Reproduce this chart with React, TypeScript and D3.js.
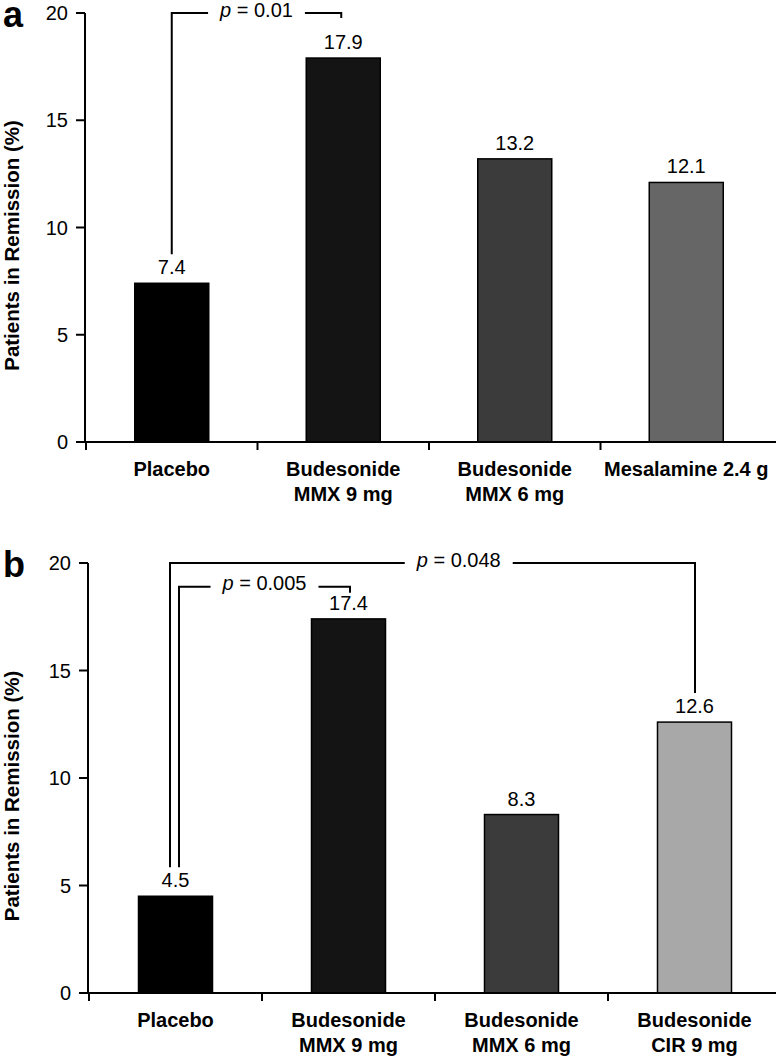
import React, { useEffect, useRef } from "react";
import * as d3 from "d3";

const categoriesA: string[][] = [["Placebo"], ["Budesonide", "MMX 9 mg"], ["Budesonide", "MMX 6 mg"], ["Mesalamine 2.4 g"]];
const valuesA: number[] = [7.4, 17.9, 13.2, 12.1];
const colorsA: string[] = ["#000000", "#141414", "#3b3b3b", "#666666"];

const categoriesB: string[][] = [["Placebo"], ["Budesonide", "MMX 9 mg"], ["Budesonide", "MMX 6 mg"], ["Budesonide", "CIR 9 mg"]];
const valuesB: number[] = [4.5, 17.4, 8.3, 12.6];
const colorsB: string[] = ["#000000", "#141414", "#3b3b3b", "#a8a8a8"];

const yTicks: number[] = [0, 5, 10, 15, 20];
const yTitle = "Patients in Remission (%)";

const FONT = "'Liberation Sans', Arial, Helvetica, sans-serif";

interface Bracket {
  from: number;
  to: number;
  label: string;
  level: number;
  fromDx: number;
  toDx: number;
  textPos: number;
  dropRight: number | null;
}

interface PanelCfg {
  letter: string;
  top: number;
  bottom: number;
  axisX: number;
  xStart: number;
  step: number;
  cats: string[][];
  vals: number[];
  colors: string[];
  brackets: Bracket[];
}

const panels: PanelCfg[] = [
  {
    letter: "a",
    top: 13,
    bottom: 442,
    axisX: 85,
    xStart: 86,
    step: 171.5,
    cats: categoriesA,
    vals: valuesA,
    colors: colorsA,
    brackets: [
      { from: 0, to: 1, label: "0.01", level: 20, fromDx: 0, toDx: -2, textPos: 0.5, dropRight: 5 },
    ],
  },
  {
    letter: "b",
    top: 563,
    bottom: 993,
    axisX: 88,
    xStart: 89,
    step: 173,
    cats: categoriesB,
    vals: valuesB,
    colors: colorsB,
    brackets: [
      { from: 0, to: 3, label: "0.048", level: 20, fromDx: -5.5, toDx: 0.5, textPos: 0.55, dropRight: null },
      { from: 0, to: 1, label: "0.005", level: 18.9, fromDx: 3.5, toDx: 1.5, textPos: 0.5, dropRight: 6 },
    ],
  },
];

export default function App() {
  const ref = useRef<SVGSVGElement | null>(null);

  useEffect(() => {
    const svg = d3.select(ref.current);
    svg.selectAll("*").remove();

    panels.forEach((p) => {
      const g = svg.append("g");
      const y = d3.scaleLinear().domain([0, 20]).range([p.bottom, p.top]);
      const x = d3
        .scaleBand<number>()
        .domain(p.cats.map((_, i) => i))
        .range([p.xStart, p.xStart + p.step * p.cats.length])
        .paddingInner(0)
        .paddingOuter(0);
      const barW = 74;
      const cx = (i: number) => (x(i) as number) + x.bandwidth() / 2;

      g.selectAll("rect.bar")
        .data(p.vals)
        .enter()
        .append("rect")
        .attr("x", (_, i) => cx(i) - barW / 2)
        .attr("y", (d) => y(d))
        .attr("width", barW)
        .attr("height", (d) => p.bottom - y(d))
        .attr("fill", (_, i) => p.colors[i])
        .attr("stroke", "#000")
        .attr("stroke-width", 1.5);

      g.selectAll("text.val")
        .data(p.vals)
        .enter()
        .append("text")
        .attr("x", (_, i) => cx(i))
        .attr("y", (d) => y(d) - 9)
        .attr("text-anchor", "middle")
        .attr("font-family", FONT)
        .attr("font-size", 20)
        .attr("fill", "#000")
        .text((d) => d.toFixed(1));

      g.append("line")
        .attr("x1", p.axisX)
        .attr("x2", p.axisX)
        .attr("y1", y(20))
        .attr("y2", y(0))
        .attr("stroke", "#000")
        .attr("stroke-width", 2);
      yTicks.forEach((t) => {
        g.append("line")
          .attr("x1", p.axisX - 9)
          .attr("x2", p.axisX)
          .attr("y1", y(t))
          .attr("y2", y(t))
          .attr("stroke", "#000")
          .attr("stroke-width", 2);
        g.append("text")
          .attr("x", p.axisX - 17)
          .attr("y", y(t))
          .attr("dy", "0.36em")
          .attr("text-anchor", "end")
          .attr("font-family", FONT)
          .attr("font-size", 20)
          .text(String(t));
      });

      g.append("line")
        .attr("x1", p.axisX - 9)
        .attr("x2", 776)
        .attr("y1", p.bottom)
        .attr("y2", p.bottom)
        .attr("stroke", "#000")
        .attr("stroke-width", 2);
      p.cats.forEach((_, i) => {
        const tx = x(i) as number;
        g.append("line")
          .attr("x1", tx)
          .attr("x2", tx)
          .attr("y1", p.bottom)
          .attr("y2", p.bottom + 8)
          .attr("stroke", "#000")
          .attr("stroke-width", 2);
      });
      p.cats.forEach((lines, i) => {
        const t = g
          .append("text")
          .attr("x", cx(i))
          .attr("y", p.bottom + 34)
          .attr("text-anchor", "middle")
          .attr("font-family", FONT)
          .attr("font-weight", "bold")
          .attr("font-size", 20);
        lines.forEach((ln, k) => {
          t.append("tspan")
            .attr("x", cx(i))
            .attr("dy", k === 0 ? 0 : 25)
            .text(ln);
        });
      });

      g.append("text")
        .attr("transform", `translate(19,${(p.top + p.bottom) / 2 + 18}) rotate(-90)`)
        .attr("text-anchor", "middle")
        .attr("font-family", FONT)
        .attr("font-weight", "bold")
        .attr("font-size", 20.5)
        .text(yTitle);

      g.append("text")
        .attr("x", 3)
        .attr("y", p.top + 14)
        .attr("font-family", FONT)
        .attr("font-weight", "bold")
        .attr("font-size", 36)
        .text(p.letter);

      p.brackets.forEach((b) => {
        const x1 = cx(b.from) + b.fromDx;
        const x2 = cx(b.to) + b.toDx;
        const ly = y(b.level);
        const leftBottom = y(p.vals[b.from]) - 29;
        const rightBottom = b.dropRight === null ? y(p.vals[b.to]) - 29 : ly + b.dropRight;
        const tc = x1 + (x2 - x1) * b.textPos;
        const txt = g
          .append("text")
          .attr("x", tc)
          .attr("y", ly + 3.5)
          .attr("text-anchor", "middle")
          .attr("font-family", FONT)
          .attr("font-size", 20);
        txt.append("tspan").attr("font-style", "italic").text("p");
        txt.append("tspan").text(` = ${b.label}`);
        const w = (txt.node() as SVGTextElement).getComputedTextLength();
        const gap = 12;
        const path = d3.path();
        path.moveTo(x1, leftBottom);
        path.lineTo(x1, ly);
        path.lineTo(tc - w / 2 - gap, ly);
        path.moveTo(tc + w / 2 + gap, ly);
        path.lineTo(x2, ly);
        path.lineTo(x2, rightBottom);
        g.append("path")
          .attr("d", path.toString())
          .attr("fill", "none")
          .attr("stroke", "#000")
          .attr("stroke-width", 2);
      });
    });
  }, []);

  return (
    <svg
      ref={ref}
      width={776}
      height={1056}
      style={{ position: "absolute", left: 0, top: 0, background: "#fff" }}
    />
  );
}
